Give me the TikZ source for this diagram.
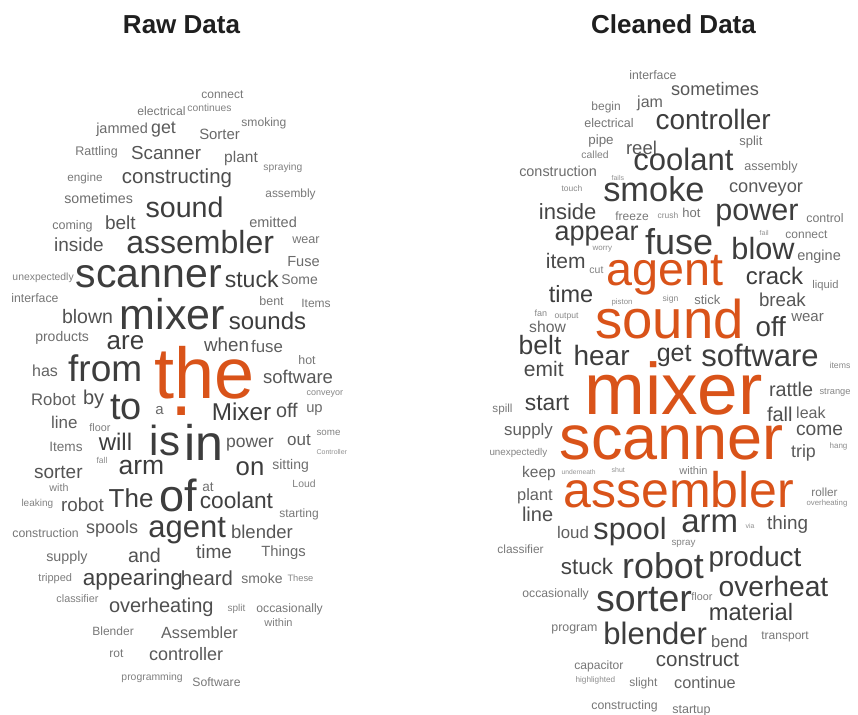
\documentclass[tikz,border=0pt]{standalone}
\usepackage{fontspec}
\setmainfont{Liberation Sans}
\definecolor{hilite}{HTML}{D95319}
\begin{document}
\begin{tikzpicture}[x=1pt,y=-1pt,
  word/.style={anchor=base west, inner sep=0pt, outer sep=0pt},
  hotword/.style={word, text=hilite},
  titletext/.style={anchor=base, inner sep=0pt, text=black!88,
    font=\fontsize{26}{26}\selectfont\bfseries}]
\useasboundingbox (0,0) rectangle (858,714);

% panel titles
\node[titletext] (title-raw) at (181.5,34) {Raw Data};
\node[titletext] (title-clean) at (673.5,34) {Cleaned Data};

% left cloud: x of ink edge / baseline / size / word
\foreach \wx/\wy/\ws/\wt [count=\i] in {
202/99/12/connect, 188/112/10.3/continues, 138/116/12.2/electrical,
242/127/12.1/smoking, 97/134/14.5/jammed, 152/134/17.8/get,
200/140/14.9/Sorter, 76/156/12.5/Rattling, 132/160/18.8/Scanner,
225/163/15.5/plant, 264/170/10.3/spraying, 68/181/11.7/engine,
123/183/20.4/constructing, 266/197/11.9/assembly, 65/203/14.2/sometimes,
147/217/28.6/sound, 53/229/12.5/coming, 106/229/19/belt,
250/227/14.5/emitted, 293/243/12.6/wear, 55/251/19/inside,
128/253/32/assembler, 288/266/14.6/Fuse, 13/280/10.4/unexpectedly,
78/287/41/scanner, 226/287/23/stuck, 282/284/14/Some,
12/302/12.3/interface, 260/305/12.5/bent, 302/307/12/Items,
63/323/19.5/blown, 122/329/43/mixer, 230/329/24/sounds,
36/341/14/products, 108/349/26/are, 205/351/18.8/when,
252/352/16.8/fuse, 33/376/16/has, 70/381/37/from,
299/364/12.4/hot, 264/383/18.5/software, 32/405/16.7/Robot,
84/404/20/by, 112/419/38/to, 156/414/15/a,
307/395/9/conveyor, 213/420/24.3/Mixer, 277/417/19.8/off,
307/412/14.8/up, 52/428/17/line, 90/431/10.8/floor,
152/455/42/is, 187/460/50/in, 50/451/13.6/Items,
100/450/24/will, 97/463/8.5/fall, 227/447/17.5/power,
288/445/17/out, 317/435/9.8/some, 317/454/7/Controller,
120/474/26.5/arm, 237/475/25.7/on, 273/469/14/sitting,
35/478/19/sorter, 110/507/26/The, 162/511/45/of,
203/491/13.6/at, 293/487/10.4/Loud, 201/508/22.7/coolant,
280/517/12/starting, 50/491/10.7/with, 22/506/10/leaking,
62/511/18.8/robot, 13/537/12.3/construction, 87/533/18/spools,
150/537/31/agent, 232/538/18.5/blender, 47/561/14.3/supply,
129/562/19.7/and, 197/558/19/time, 262/556/14.8/Things,
39/581/11/tripped, 84/585/22.5/appearing, 182/585/20.3/heard,
242/583/14/smoke, 288/581/9.3/These, 57/602/10.8/classifier,
110/612/20/overheating, 228/611/10/split, 257/612/12.2/occasionally,
265/626/11/within, 93/635/12/Blender, 162/638/16.2/Assembler,
110/657/12/rot, 150/660/18/controller, 122/680/10.4/programming,
193/686/12.2/Software} {
  \pgfmathsetmacro\k{max(42,min(76,45+(\ws-8)*2))}
  \node[word, font=\fontsize{\ws}{\ws}\selectfont, text=black!\k]
    (raw-\i) at ({\wx-0.05*\ws},\wy) {\wt};
}
\node[hotword, font=\fontsize{72}{72}\selectfont] (raw-the) at (154,398) {the};
\node[hotword, font=\fontsize{80}{80}\selectfont] (raw-dot) at (170,415) {.};

% right cloud
\foreach \wx/\wy/\ws/\wt [count=\i] in {
630/80/12.3/interface, 672/96/18.2/sometimes, 592/111/12/begin,
638/108/16/jam, 657/130/28/controller, 585/128/12.5/electrical,
589/145/13.4/pipe, 627/154/18.5/reel, 740/146/13/split,
582/158/10.4/called, 635/171/31/coolant, 745/171/12.6/assembly,
520/176/14.4/construction, 612/180/7/fails, 730/192/18.2/conveyor,
605/201/34.4/smoke, 562/191/8.5/touch, 717/220/30.5/power,
540/219/22/inside, 616/220/12/freeze, 658/218/8.5/crush,
683/217/13/hot, 807/222/12.4/control, 556/240/27/appear,
647/254/36/fuse, 733/259/30.7/blow, 760/235/7/fail,
786/238/12/connect, 798/260/14.5/engine, 593/250/8/worry,
547/268/21/item, 590/273/10.5/cut, 747/284/24/crack,
813/288/11.2/liquid, 550/302/23.5/time, 612/304/7.8/piston,
663/301/8.6/sign, 695/304/13/stick, 760/306/18.7/break,
792/321/15/wear, 757/336/27.7/off, 535/316/9/fan,
555/318/8.6/output, 530/332/15.7/show, 520/354/26.5/belt,
575/365/28/hear, 658/361/25/get, 703/366/31/software,
830/368/8.7/items, 525/376/21/emit, 770/396/19.8/rattle,
820/394/9.3/strange, 493/412/11.7/spill, 526/410/22.8/start,
768/421/20/fall, 797/418/16/leak, 797/435/19.2/come,
505/435/16.8/supply, 490/455/9.8/unexpectedly, 792/457/17.8/trip,
830/448/8/hang, 523/477/15.5/keep, 562/474/6.7/underneath,
612/472/7/shut, 680/474/11/within, 518/500/16.4/plant,
523/521/20/line, 558/538/16.8/loud, 595/539/30.6/spool,
498/553/11.9/classifier, 562/574/22.4/stuck, 624/578/35.8/robot,
523/597/12.2/occasionally, 598/611/37.5/sorter, 552/631/12.4/program,
605/644/31/blender, 575/669/12.1/capacitor, 576/682/8.2/highlighted,
630/686/12/slight, 592/709/12.3/constructing, 812/496/11.8/roller,
807/505/7.8/overheating, 683/532/33/arm, 768/529/18.9/thing,
746/528/7/via, 672/545/9.8/spray, 710/566/27.8/product,
720/596/28.2/overheat, 692/600/10.8/floor, 710/620/23.7/material,
712/647/16.5/bend, 762/639/12/transport, 657/666/20.5/construct,
675/688/16.3/continue, 673/713/12.5/startup} {
  \pgfmathsetmacro\k{max(42,min(76,45+(\ws-8)*2))}
  \node[word, font=\fontsize{\ws}{\ws}\selectfont, text=black!\k]
    (clean-\i) at ({\wx-0.05*\ws},\wy) {\wt};
}
\foreach \wx/\wy/\ws/\wt in {
588/414/73/mixer, 563/459/63/scanner, 609/285/46.7/agent,
598/338/54.5/sound, 566/507/50/assembler} {
  \node[hotword, font=\fontsize{\ws}{\ws}\selectfont]
    (clean-\wt) at ({\wx-0.05*\ws},\wy) {\wt};
}
\end{tikzpicture}
\end{document}
